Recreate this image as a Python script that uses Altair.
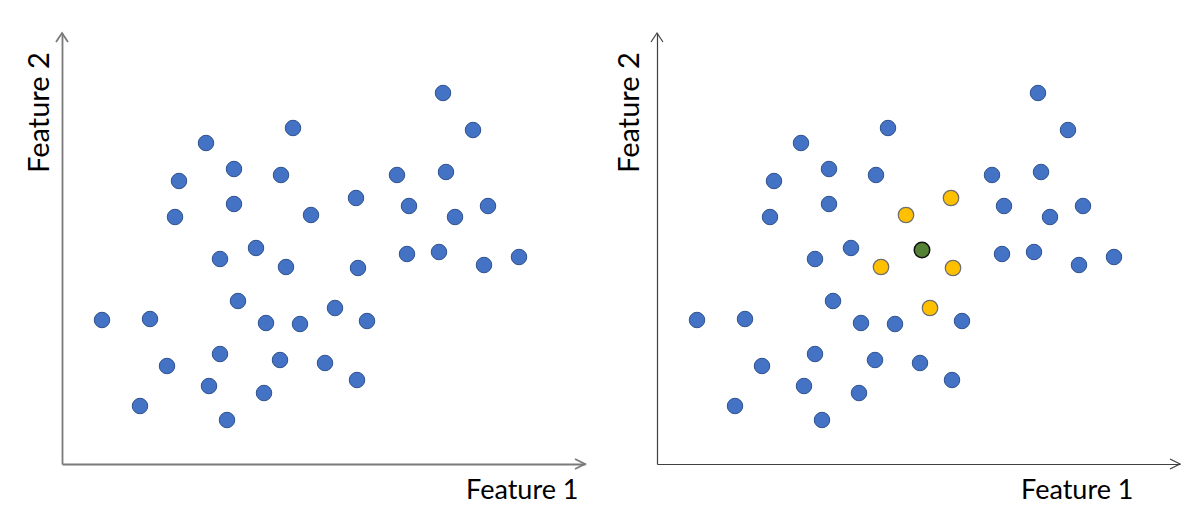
import altair as alt
import pandas as pd

# Feature values (arbitrary units)
feat1 = [381, 411, 231, 144, 172, 117, 219, 335, 384, 294, 172, 113, 249, 347, 393, 426,
         194, 158, 224, 296, 345, 377, 422, 457, 176, 273, 40, 88, 204, 238, 305, 158,
         105, 218, 263, 147, 202, 295, 78, 165]
feat2 = [371, 334, 336, 321, 295, 283, 289, 289, 292, 266, 260, 247, 249, 258, 247, 258,
         216, 205, 197, 196, 210, 212, 199, 207, 163, 156, 144, 145, 141, 140, 143, 110,
         98, 104, 101, 78, 71, 84, 58, 44]
# indices of the 5 nearest neighbours highlighted in the right panel
neighbours = [9, 12, 18, 19, 25]
new_point = (265, 214)

XMAX, YMAX = 523, 431
W, H = 523, 431
FONT = "Lato"

left_df = pd.DataFrame({"f1": feat1, "f2": feat2, "kind": "data"})
right_kind = ["neighbour" if i in neighbours else "data" for i in range(len(feat1))]
right_df = pd.DataFrame({"f1": feat1 + [new_point[0]], "f2": feat2 + [new_point[1]],
                         "kind": right_kind + ["new"]})

kinds = ["data", "neighbour", "new"]
fills = ["#4472C4", "#FFC000", "#548235"]
strokes = ["#2F528F", "#6E6E6E", "#111111"]
widths = [1, 1.5, 1.5]


def panel(df, axis_color, line_w, xtitle_x, ytitle_x):
    xs = alt.Scale(domain=[0, XMAX], nice=False, zero=True)
    ys = alt.Scale(domain=[0, YMAX], nice=False, zero=True)
    x_axis = alt.Axis(title="Feature 1", ticks=False, labels=False, grid=False,
                      domainColor=axis_color, domainWidth=line_w,
                      titleFont=FONT, titleFontSize=27, titleFontWeight="normal",
                      titleColor="#000000", titleAnchor="end", titleAlign="right",
                      titleX=xtitle_x, titleY=34, titleBaseline="alphabetic")
    y_axis = alt.Axis(title="Feature 2", ticks=False, labels=False, grid=False,
                      domainColor=axis_color, domainWidth=line_w,
                      titleFont=FONT, titleFontSize=29, titleFontWeight="normal",
                      titleColor="#000000", titleAngle=270, titleAlign="center",
                      titleX=ytitle_x, titleY=79, titleBaseline="middle")
    pts = alt.Chart(df).mark_circle(size=240, opacity=1).encode(
        x=alt.X("f1:Q", scale=xs, axis=x_axis),
        y=alt.Y("f2:Q", scale=ys, axis=y_axis),
        fill=alt.Fill("kind:N", scale=alt.Scale(domain=kinds, range=fills), legend=None),
        stroke=alt.Stroke("kind:N", scale=alt.Scale(domain=kinds, range=strokes), legend=None),
        strokeWidth=alt.StrokeWidth("kind:N", scale=alt.Scale(domain=kinds, range=widths), legend=None),
    )
    up = alt.Chart(pd.DataFrame({"a": [0]})).mark_point(
        shape="M-1,1.5L0,0L1,1.5", size=144, filled=False, stroke=axis_color,
        strokeWidth=line_w, opacity=1).encode(
        x=alt.datum(0, scale=xs), y=alt.datum(YMAX, scale=ys))
    right = alt.Chart(pd.DataFrame({"a": [0]})).mark_point(
        shape="M-2,-1L0,0L-2,1", size=100, filled=False, stroke=axis_color,
        strokeWidth=line_w, opacity=1).encode(
        x=alt.datum(XMAX, scale=xs), y=alt.datum(0, scale=ys))
    return alt.layer(pts, up, right).properties(width=W, height=H)


left = panel(left_df, "#7a7a7a", 1.8, 516, -23)
rightp = panel(right_df, "#404040", 1.2, 476, -28)

chart = alt.hconcat(left, rightp, spacing=72, bounds="flush").configure_view(
    stroke=None).properties(padding={"left": 17, "top": 21, "right": 5, "bottom": 5})

chart.save("out.html", embed_options={"renderer": "svg", "actions": False})
